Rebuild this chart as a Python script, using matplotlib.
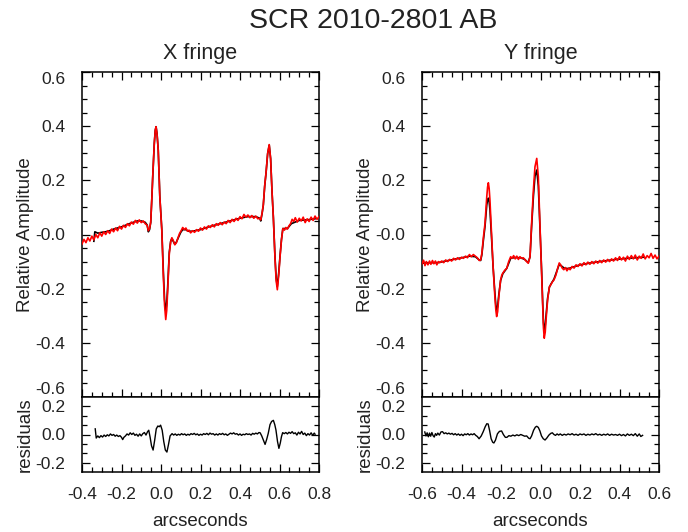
import numpy as np
import matplotlib.pyplot as plt
from matplotlib.ticker import MultipleLocator

plt.rcParams['font.family'] = ['Liberation Sans', 'DejaVu Sans']

# ---- X fringe: data (red), model (black), residuals ----
xf_x = [-0.400, -0.390, -0.380, -0.370, -0.360, -0.350, -0.340, -0.330, -0.320, -0.310,
        -0.300, -0.290, -0.280, -0.270, -0.260, -0.250, -0.240, -0.230, -0.220, -0.210,
        -0.200, -0.190, -0.180, -0.170, -0.160, -0.150, -0.140, -0.130, -0.120, -0.110,
        -0.100, -0.090, -0.080, -0.070, -0.064, -0.058, -0.052, -0.046, -0.042, -0.034,
        -0.029, -0.025, -0.020, -0.014, -0.006, 0.004, 0.012, 0.018, 0.024, 0.029,
        0.034, 0.042, 0.049, 0.055, 0.062, 0.070, 0.078, 0.086, 0.094, 0.102,
        0.110, 0.118, 0.126, 0.134, 0.142, 0.150, 0.160, 0.170, 0.180, 0.190,
        0.200, 0.210, 0.220, 0.230, 0.240, 0.250, 0.260, 0.270, 0.280, 0.290,
        0.300, 0.310, 0.320, 0.330, 0.340, 0.350, 0.360, 0.370, 0.380, 0.390,
        0.400, 0.410, 0.420, 0.430, 0.440, 0.450, 0.460, 0.470, 0.480, 0.490,
        0.500, 0.505, 0.512, 0.518, 0.525, 0.532, 0.540, 0.548, 0.555, 0.562,
        0.569, 0.577, 0.583, 0.589, 0.596, 0.603, 0.610, 0.617, 0.625, 0.632,
        0.640, 0.648, 0.656, 0.664, 0.672, 0.680, 0.690, 0.700, 0.710, 0.720,
        0.730, 0.740, 0.750, 0.760, 0.770, 0.780, 0.790, 0.800]
xf_data = [-0.035, -0.018, -0.030, -0.012, -0.024, -0.006, -0.020, 0.000, -0.012, 0.006,
           -0.006, 0.010, 0.000, 0.014, 0.004, 0.020, 0.010, 0.024, 0.014, 0.030,
           0.020, 0.034, 0.026, 0.040, 0.032, 0.046, 0.038, 0.052, 0.042, 0.054,
           0.044, 0.050, 0.040, 0.034, 0.014, 0.022, 0.045, 0.140, 0.213, 0.337,
           0.385, 0.398, 0.370, 0.312, 0.140, 0.017, -0.156, -0.260, -0.314, -0.280,
           -0.205, -0.070, -0.027, -0.012, -0.022, -0.038, -0.030, -0.012, 0.004, 0.014,
           0.026, 0.018, 0.024, 0.012, 0.016, 0.006, 0.014, 0.008, 0.018, 0.012,
           0.024, 0.016, 0.028, 0.020, 0.032, 0.026, 0.036, 0.028, 0.040, 0.034,
           0.044, 0.036, 0.046, 0.040, 0.052, 0.044, 0.056, 0.048, 0.060, 0.052,
           0.066, 0.058, 0.074, 0.064, 0.072, 0.062, 0.070, 0.060, 0.068, 0.058,
           0.060, 0.054, 0.080, 0.110, 0.180, 0.230, 0.300, 0.332, 0.280, 0.160,
           0.060, -0.085, -0.170, -0.204, -0.150, -0.080, -0.020, 0.022, 0.016, 0.026,
           0.020, 0.032, 0.040, 0.056, 0.048, 0.062, 0.046, 0.060, 0.050, 0.064,
           0.044, 0.058, 0.048, 0.064, 0.052, 0.068, 0.056, 0.066]

xf_model_x = [-0.340, -0.335, -0.320, -0.300, -0.280, -0.260, -0.240, -0.220, -0.200, -0.180,
              -0.160, -0.140, -0.120, -0.100, -0.080, -0.070, -0.064, -0.058, -0.052, -0.046,
              -0.042, -0.034, -0.029, -0.025, -0.020, -0.014, -0.006, 0.004, 0.012, 0.018,
              0.024, 0.029, 0.034, 0.042, 0.049, 0.055, 0.062, 0.070, 0.078, 0.090,
              0.100, 0.110, 0.125, 0.140, 0.160, 0.200, 0.240, 0.280, 0.320, 0.360,
              0.400, 0.440, 0.480, 0.500, 0.505, 0.512, 0.518, 0.525, 0.532, 0.540,
              0.548, 0.555, 0.562, 0.569, 0.577, 0.583, 0.589, 0.596, 0.603, 0.610,
              0.617, 0.640, 0.660, 0.700, 0.740, 0.780]
xf_model = [-0.025, 0.010, 0.005, 0.008, 0.010, 0.014, 0.020, 0.024, 0.028, 0.034,
            0.040, 0.045, 0.050, 0.050, 0.045, 0.035, 0.010, 0.018, 0.045, 0.140,
            0.210, 0.335, 0.385, 0.398, 0.372, 0.312, 0.140, 0.020, -0.140, -0.240,
            -0.282, -0.255, -0.190, -0.065, -0.025, -0.015, -0.025, -0.036, -0.028, -0.008,
            0.008, 0.018, 0.018, 0.012, 0.012, 0.018, 0.028, 0.036, 0.044, 0.052,
            0.060, 0.066, 0.066, 0.060, 0.050, 0.078, 0.108, 0.178, 0.228, 0.298,
            0.330, 0.280, 0.160, 0.062, -0.080, -0.160, -0.192, -0.142, -0.076, -0.018,
            0.022, 0.022, 0.040, 0.052, 0.054, 0.058]

xf_res_x = [-0.333, -0.328, -0.320, -0.312, -0.304, -0.296, -0.288, -0.280, -0.272, -0.264,
            -0.256, -0.248, -0.240, -0.232, -0.224, -0.216, -0.208, -0.200, -0.194, -0.188,
            -0.180, -0.172, -0.164, -0.156, -0.148, -0.140, -0.132, -0.124, -0.116, -0.108,
            -0.100, -0.092, -0.084, -0.076, -0.068, -0.062, -0.055, -0.048, -0.040, -0.032,
            -0.024, -0.016, -0.009, -0.002, 0.006, 0.014, 0.022, 0.030, 0.038, 0.046,
            0.056, 0.064, 0.072, 0.080, 0.088, 0.096, 0.104, 0.112, 0.120, 0.128,
            0.136, 0.144, 0.152, 0.160, 0.168, 0.176, 0.184, 0.192, 0.200, 0.208,
            0.216, 0.224, 0.232, 0.240, 0.248, 0.256, 0.264, 0.272, 0.280, 0.288,
            0.296, 0.304, 0.312, 0.320, 0.328, 0.336, 0.344, 0.352, 0.360, 0.368,
            0.376, 0.384, 0.392, 0.400, 0.408, 0.416, 0.424, 0.432, 0.440, 0.448,
            0.456, 0.464, 0.472, 0.480, 0.488, 0.496, 0.502, 0.510, 0.520, 0.527,
            0.535, 0.543, 0.552, 0.560, 0.569, 0.576, 0.582, 0.590, 0.597, 0.604,
            0.610, 0.616, 0.624, 0.632, 0.640, 0.648, 0.656, 0.664, 0.672, 0.680,
            0.688, 0.696, 0.704, 0.712, 0.720, 0.728, 0.736, 0.744, 0.752, 0.760,
            0.768, 0.776, 0.780]
xf_res = [0.040, -0.025, -0.010, -0.022, -0.008, -0.018, -0.004, -0.014, -0.002, -0.010,
          0.004, -0.006, 0.000, -0.012, -0.004, -0.014, -0.008, -0.020, -0.036, -0.020,
          -0.010, 0.004, -0.004, 0.012, 0.000, 0.010, -0.006, 0.002, -0.012, 0.004,
          -0.010, 0.006, 0.014, -0.004, 0.020, 0.030, -0.020, -0.080, -0.110, -0.040,
          0.040, 0.060, 0.055, 0.066, 0.030, -0.050, -0.110, -0.124, -0.070, -0.010,
          0.006, -0.004, 0.004, -0.006, 0.002, -0.004, 0.006, -0.002, 0.004, -0.006,
          0.002, -0.004, 0.006, 0.000, 0.008, -0.002, 0.004, -0.006, 0.002, -0.004,
          0.006, 0.000, 0.008, -0.002, 0.010, 0.002, 0.006, -0.004, 0.004, -0.004,
          0.006, 0.000, 0.008, -0.002, 0.004, -0.006, 0.002, 0.010, 0.004, 0.012,
          0.002, 0.006, -0.004, 0.004, -0.006, 0.002, -0.002, 0.006, 0.000, 0.004,
          -0.004, 0.008, 0.002, 0.010, 0.004, 0.014, 0.012, -0.010, -0.045, -0.070,
          -0.035, 0.008, 0.070, 0.092, 0.100, 0.070, 0.032, -0.050, -0.098, -0.060,
          -0.015, 0.013, 0.006, 0.014, 0.004, 0.016, 0.008, 0.020, 0.006, 0.012,
          -0.004, 0.016, 0.004, 0.022, 0.000, 0.010, -0.008, 0.006, -0.004, 0.012,
          -0.006, 0.010, 0.002]

# ---- Y fringe ----
yf_x = [-0.600, -0.592, -0.585, -0.578, -0.570, -0.562, -0.555, -0.547, -0.540, -0.532,
        -0.525, -0.517, -0.510, -0.500, -0.490, -0.480, -0.470, -0.460, -0.450, -0.440,
        -0.430, -0.420, -0.410, -0.400, -0.390, -0.380, -0.370, -0.360, -0.350, -0.340,
        -0.330, -0.320, -0.310, -0.303, -0.297, -0.289, -0.281, -0.272, -0.268, -0.264,
        -0.260, -0.256, -0.248, -0.240, -0.231, -0.226, -0.222, -0.217, -0.211, -0.202,
        -0.196, -0.191, -0.181, -0.171, -0.161, -0.151, -0.144, -0.136, -0.128, -0.120,
        -0.112, -0.104, -0.096, -0.087, -0.078, -0.070, -0.062, -0.053, -0.045, -0.036,
        -0.028, -0.019, -0.011, -0.003, 0.006, 0.011, 0.015, 0.019, 0.024, 0.028,
        0.036, 0.045, 0.052, 0.060, 0.068, 0.078, 0.088, 0.095, 0.102, 0.110,
        0.118, 0.126, 0.134, 0.142, 0.150, 0.160, 0.170, 0.180, 0.190, 0.200,
        0.210, 0.220, 0.230, 0.240, 0.250, 0.260, 0.270, 0.280, 0.290, 0.300,
        0.310, 0.320, 0.330, 0.340, 0.350, 0.360, 0.370, 0.380, 0.390, 0.400,
        0.410, 0.420, 0.430, 0.440, 0.450, 0.460, 0.470, 0.480, 0.490, 0.500,
        0.510, 0.520, 0.530, 0.540, 0.550, 0.560, 0.570, 0.580, 0.590, 0.600]
yf_data = [-0.108, -0.095, -0.115, -0.100, -0.112, -0.098, -0.110, -0.096, -0.108, -0.098,
           -0.112, -0.100, -0.104, -0.098, -0.104, -0.094, -0.100, -0.092, -0.098, -0.088,
           -0.094, -0.086, -0.092, -0.084, -0.088, -0.080, -0.086, -0.074, -0.082, -0.074,
           -0.080, -0.086, -0.096, -0.094, -0.070, -0.010, 0.041, 0.140, 0.175, 0.191,
           0.170, 0.127, 0.004, -0.119, -0.230, -0.280, -0.303, -0.285, -0.230, -0.168,
           -0.150, -0.143, -0.132, -0.125, -0.100, -0.082, -0.088, -0.078, -0.090, -0.080,
           -0.092, -0.082, -0.088, -0.086, -0.094, -0.100, -0.106, -0.082, 0.041, 0.164,
           0.250, 0.281, 0.213, 0.041, -0.143, -0.267, -0.345, -0.383, -0.360, -0.316,
           -0.242, -0.193, -0.186, -0.175, -0.168, -0.150, -0.122, -0.105, -0.112, -0.124,
           -0.130, -0.122, -0.134, -0.124, -0.130, -0.118, -0.124, -0.112, -0.118, -0.108,
           -0.116, -0.104, -0.112, -0.102, -0.110, -0.100, -0.108, -0.098, -0.106, -0.096,
           -0.104, -0.094, -0.102, -0.092, -0.100, -0.090, -0.098, -0.086, -0.096, -0.082,
           -0.094, -0.084, -0.098, -0.080, -0.092, -0.078, -0.090, -0.076, -0.094, -0.080,
           -0.088, -0.072, -0.090, -0.078, -0.086, -0.070, -0.088, -0.076, -0.090, -0.080]

yf_model_x = [-0.600, -0.560, -0.520, -0.480, -0.440, -0.400, -0.360, -0.330, -0.310, -0.303,
              -0.297, -0.289, -0.281, -0.272, -0.268, -0.264, -0.260, -0.256, -0.248, -0.240,
              -0.231, -0.226, -0.222, -0.217, -0.211, -0.202, -0.191, -0.171, -0.151, -0.130,
              -0.100, -0.080, -0.062, -0.053, -0.045, -0.036, -0.028, -0.019, -0.011, -0.003,
              0.006, 0.011, 0.015, 0.019, 0.024, 0.028, 0.036, 0.045, 0.052, 0.068,
              0.095, 0.120, 0.140, 0.200, 0.260, 0.320, 0.380, 0.440, 0.520]
yf_model = [-0.106, -0.104, -0.104, -0.098, -0.092, -0.086, -0.080, -0.082, -0.094, -0.096,
            -0.075, -0.020, 0.030, 0.110, 0.126, 0.134, 0.122, 0.092, -0.010, -0.120,
            -0.215, -0.262, -0.279, -0.266, -0.222, -0.170, -0.145, -0.125, -0.088, -0.085,
            -0.086, -0.092, -0.104, -0.082, 0.030, 0.140, 0.215, 0.238, 0.180, 0.030,
            -0.140, -0.250, -0.325, -0.353, -0.335, -0.300, -0.235, -0.195, -0.184, -0.165,
            -0.110, -0.124, -0.126, -0.112, -0.104, -0.098, -0.092, -0.088, -0.084]

yf_res_x = [-0.586, -0.580, -0.574, -0.568, -0.562, -0.556, -0.550, -0.544, -0.538, -0.532,
            -0.526, -0.520, -0.512, -0.504, -0.496, -0.488, -0.480, -0.472, -0.464, -0.456,
            -0.448, -0.440, -0.432, -0.424, -0.416, -0.408, -0.400, -0.392, -0.384, -0.376,
            -0.368, -0.360, -0.352, -0.344, -0.336, -0.328, -0.320, -0.311, -0.300, -0.290,
            -0.280, -0.272, -0.265, -0.258, -0.250, -0.242, -0.236, -0.228, -0.218, -0.208,
            -0.197, -0.188, -0.178, -0.170, -0.160, -0.150, -0.140, -0.130, -0.120, -0.110,
            -0.100, -0.090, -0.080, -0.070, -0.060, -0.053, -0.045, -0.035, -0.026, -0.019,
            -0.011, -0.003, 0.005, 0.014, 0.023, 0.032, 0.042, 0.052, 0.060, 0.068,
            0.076, 0.084, 0.092, 0.100, 0.110, 0.120, 0.130, 0.140, 0.150, 0.160,
            0.170, 0.180, 0.190, 0.200, 0.210, 0.220, 0.230, 0.240, 0.250, 0.260,
            0.270, 0.280, 0.290, 0.300, 0.310, 0.320, 0.330, 0.340, 0.350, 0.360,
            0.370, 0.380, 0.390, 0.400, 0.410, 0.420, 0.430, 0.440, 0.450, 0.460,
            0.470, 0.480, 0.490, 0.500, 0.508, 0.517]
yf_res = [0.018, -0.010, 0.012, -0.016, 0.010, -0.012, 0.014, -0.008, -0.018, 0.006,
          -0.006, 0.010, -0.004, 0.018, 0.020, 0.006, 0.012, 0.004, 0.010, 0.002,
          0.008, -0.002, 0.006, -0.004, 0.004, -0.006, 0.002, -0.008, 0.004, -0.002,
          0.006, -0.004, 0.004, -0.002, 0.006, -0.006, -0.014, -0.030, -0.010, 0.020,
          0.055, 0.076, 0.074, 0.030, -0.030, -0.055, -0.060, -0.040, 0.005, 0.022,
          0.025, 0.000, -0.020, -0.020, -0.008, -0.012, -0.004, -0.010, -0.002, -0.008,
          0.000, -0.006, -0.012, -0.010, -0.026, -0.030, -0.010, 0.030, 0.052, 0.058,
          0.050, 0.025, -0.010, -0.030, -0.039, -0.025, -0.005, 0.008, 0.012, 0.000,
          -0.006, 0.004, -0.004, 0.004, -0.006, 0.002, -0.004, 0.004, -0.002, 0.006,
          -0.004, 0.002, -0.006, 0.004, -0.002, 0.004, -0.006, 0.002, -0.004, 0.004,
          -0.002, 0.006, -0.004, 0.002, -0.006, 0.002, -0.004, 0.004, -0.006, 0.002,
          -0.004, 0.000, -0.006, 0.002, -0.008, 0.000, -0.010, 0.004, -0.006, 0.002,
          -0.008, 0.006, -0.012, 0.004, -0.014, -0.006]

main_yticks = [-0.6, -0.4, -0.2, 0.0, 0.2, 0.4, 0.6]
main_ylabels = ['-0.6', '-0.4', '-0.2', '-0.0', '0.2', '0.4', '0.6']
res_yticks = [-0.2, 0.0, 0.2]
res_ylabels = ['-0.2', '0.0', '0.2']

fig = plt.figure(figsize=(6.88, 5.32), dpi=100)

panels = [
    dict(left=82, xlim=(-0.4, 0.8), title='X fringe',
         x=xf_x, y=xf_data, mx=xf_model_x, my=xf_model, rx=xf_res_x, ry=xf_res,
         xticks=[-0.4, -0.2, 0.0, 0.2, 0.4, 0.6, 0.8],
         xlabels=['-0.4', '-0.2', '0.0', '0.2', '0.4', '0.6', '0.8']),
    dict(left=422, xlim=(-0.6, 0.6), title='Y fringe',
         x=yf_x, y=yf_data, mx=yf_model_x, my=yf_model, rx=yf_res_x, ry=yf_res,
         xticks=[-0.6, -0.4, -0.2, 0.0, 0.2, 0.4, 0.6],
         xlabels=['-0.6', '-0.4', '-0.2', '0.0', '0.2', '0.4', '0.6']),
]

W, H = 688, 532
txt = '#222222'
for p in panels:
    l = p['left'] / W
    w = 237 / W
    ax = fig.add_axes([l, 1 - 397 / H, w, 325 / H])
    axr = fig.add_axes([l, 1 - 472 / H, w, 75 / H])

    ax.plot(p['mx'], p['my'], color='black', lw=1.2, zorder=2)
    ax.plot(p['x'], p['y'], color='red', lw=1.2, zorder=3)
    ax.set_xlim(p['xlim'])
    ax.set_ylim(-0.6, 0.6)
    ax.set_xticks(p['xticks'])
    ax.set_xticklabels([])
    ax.set_yticks(main_yticks)
    ax.set_yticklabels(main_ylabels)
    ax.xaxis.set_minor_locator(MultipleLocator(0.05))
    ax.yaxis.set_minor_locator(MultipleLocator(0.05))
    ax.tick_params(which='both', direction='in', top=True, right=True,
                   labelsize=12.5, width=0.9, pad=12, labelcolor=txt)
    ax.tick_params(which='major', length=6)
    ax.tick_params(which='minor', length=3.5)
    # end labels sit inside the axis span, as in the original
    ylabs = ax.get_yticklabels()
    ylabs[0].set_va('bottom')
    ylabs[-1].set_va('top')
    ax.set_ylabel('Relative Amplitude', fontsize=13.5, labelpad=1, color=txt)
    ax.set_title(p['title'], fontsize=15.5, pad=9, color=txt)

    axr.plot(p['rx'], p['ry'], color='black', lw=1.0)
    axr.set_xlim(p['xlim'])
    axr.set_ylim(-0.265, 0.265)
    axr.set_xticks(p['xticks'])
    axr.set_xticklabels(p['xlabels'])
    axr.set_yticks(res_yticks)
    axr.set_yticklabels(res_ylabels)
    axr.xaxis.set_minor_locator(MultipleLocator(0.05))
    axr.yaxis.set_minor_locator(MultipleLocator(0.2 / 3))
    axr.tick_params(which='both', direction='in', right=True, top=False,
                    labelsize=12.5, width=0.9, labelcolor=txt)
    axr.tick_params(axis='x', pad=11)
    axr.tick_params(axis='y', pad=12)
    axr.tick_params(which='major', length=6)
    axr.tick_params(which='minor', length=3.5)
    axr.set_ylabel('residuals', fontsize=13.5, labelpad=1, color=txt)
    axr.set_xlabel('arcseconds', fontsize=13.5, labelpad=8, color=txt)

    for a in (ax, axr):
        for s in a.spines.values():
            s.set_linewidth(1.1)

fig.text(373 / W, 1 - 21 / H, 'SCR 2010-2801 AB', fontsize=20.5,
         ha='center', va='center', color=txt)

fig.savefig('out.png', dpi=100)
